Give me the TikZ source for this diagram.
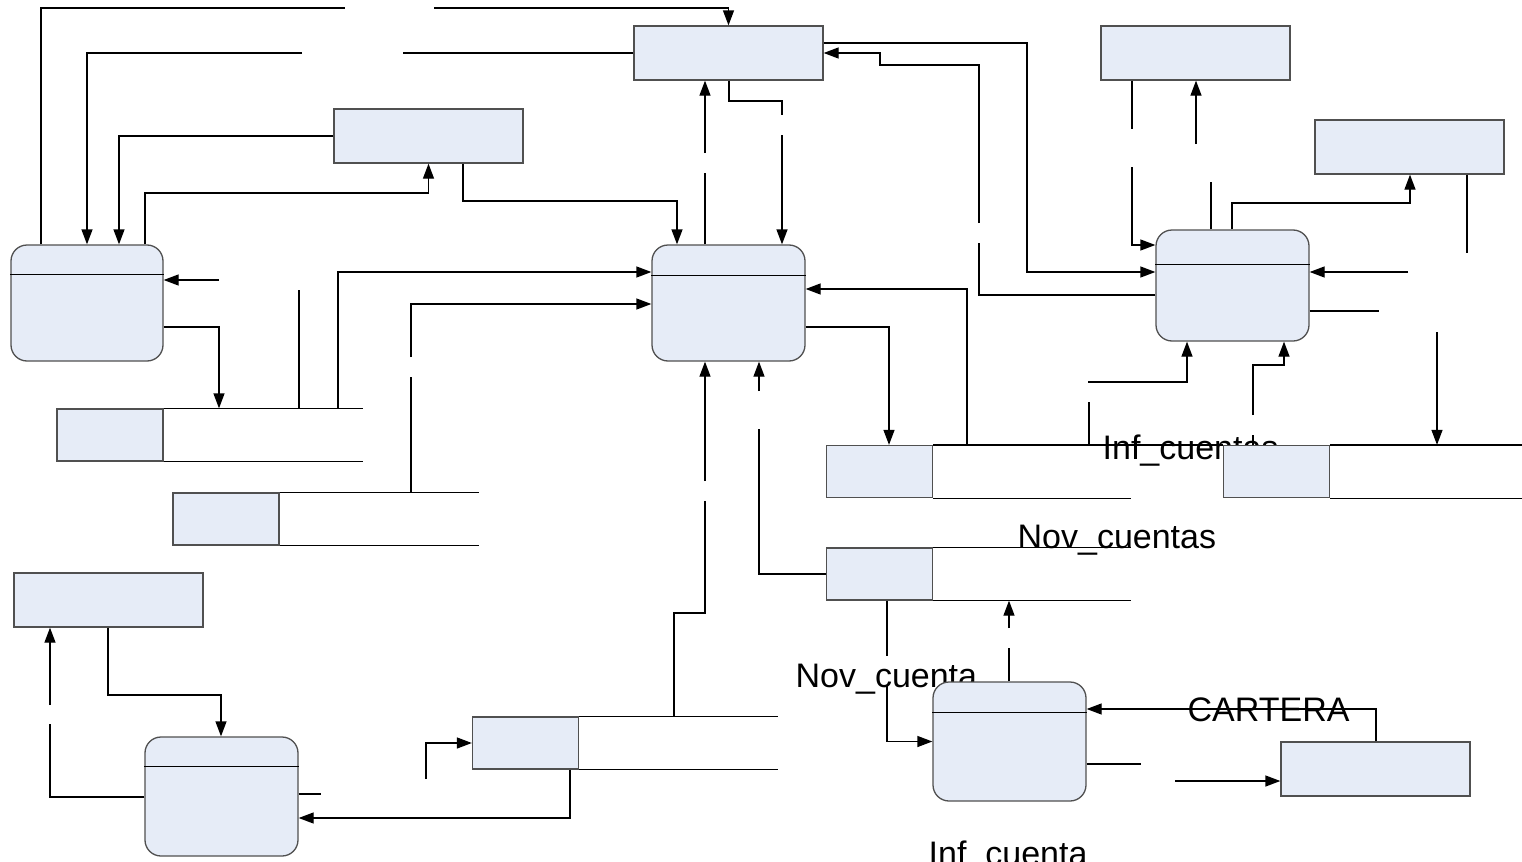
\documentclass[tikz,border=0pt]{standalone}
\usepackage{fontspec}
\setmainfont{Liberation Sans}
\usetikzlibrary{arrows.meta}
\definecolor{boxfill}{RGB}{230,236,247}
\definecolor{boxline}{RGB}{80,80,80}

\begin{document}
\begin{tikzpicture}[x=0.5pt,y=-0.5pt,line width=0.65pt,
    ent/.style={draw=boxline,fill=boxfill,minimum width=94.5pt,minimum height=27pt,inner sep=0pt},
    proc/.style={draw=boxline,fill=boxfill,rounded corners=8pt,minimum width=76.5pt,minimum height=58pt,inner sep=0pt},
    store/.style={draw=boxline,fill=boxfill,minimum width=53pt,minimum height=26pt,inner sep=0pt},
    flow/.style={-{Triangle[length=7.5pt,width=5.5pt]}},
    lbl/.style={anchor=base west,inner sep=0pt,font=\fontsize{17}{20}\selectfont}]
      \useasboundingbox (0,0) rectangle (1522,862);
      \clip (0,0) rectangle (1522,862);

      \node[lbl] (infcuentas) at (1102,459) {Inf\_cuentas};
      \node[lbl] (novcuentas) at (1017,548) {Nov\_cuentas};
      \node[lbl] (novcuenta) at (795,687) {Nov\_cuenta};
      \node[lbl] (cartera) at (1187,721) {CARTERA};
      \node[lbl] (infcuenta) at (928,865) {Inf\_cuenta};

      \node[ent] (e1) at (728.5,53) {};
      \node[ent] (e2) at (428.5,136) {};
      \node[ent] (e3) at (1195.5,53) {};
      \node[ent] (e4) at (1409.5,147) {};
      \node[ent] (e5) at (108.5,600) {};
      \node[ent] (e6) at (1375.5,769) {};

      \node[proc,minimum width=76pt] (p1) at (87,303) {};
      \node[proc] (p2) at (728.5,303) {};
      \node[proc,minimum height=55.5pt] (p3) at (1232.5,285.5) {};
      \node[proc,minimum height=59.5pt] (p4) at (221.5,796.5) {};
      \node[proc,minimum height=59.5pt] (p5) at (1009.5,741.5) {};
      \draw ([yshift=-15pt]p1.north west) -- ([yshift=-15pt]p1.north east);
      \draw ([yshift=-15.5pt]p2.north west) -- ([yshift=-15.5pt]p2.north east);
      \draw ([yshift=-17.5pt]p3.north west) -- ([yshift=-17.5pt]p3.north east);
      \draw ([yshift=-15pt]p4.north west) -- ([yshift=-15pt]p4.north east);
      \draw ([yshift=-15.5pt]p5.north west) -- ([yshift=-15.5pt]p5.north east);

      \node[store] (d1) at (110,435) {};
      \node[store] (d2) at (226,519) {};
      \node[store] (d3) at (879.5,471.5) {};
      \node[store] (d4) at (1276.5,471.5) {};
      \node[store] (d5) at (879.5,574) {};
      \node[store] (d6) at (525.5,743) {};
      \draw (d1.north east) -- ++(199,0);
      \draw (d1.south east) -- ++(199,0);
      \draw (d2.north east) -- ++(199,0);
      \draw (d2.south east) -- ++(199,0);
      \draw (d3.north east) -- ++(290,0);
      \draw (d3.south east) -- ++(198,0);
      \draw (d4.north east) -- ++(192,0);
      \draw (d4.south east) -- ++(192,0);
      \draw (d5.north east) -- ++(198,0);
      \draw (d5.south east) -- ++(198,0);
      \draw (d6.north east) -- ++(199,0);
      \draw (d6.south east) -- ++(199,0);

      \draw (41,0 |- p1.north) |- (345,8);
      \draw[flow] (434,8) -| (e1.north);
      \draw (e1.west) -- (403,53);
      \draw[flow] (302,53) -| (p1.north);
      \draw[flow] (e2.west) -| (119,0 |- p1.north);
      \draw[flow] (145,0 |- p1.north) -- (145,193) -| (e2.south);
      \draw[flow] (463,0 |- e2.south) -- (463,201) -| (677,0 |- p2.north);
      \draw[flow] (219,280) -- (p1.east |- 0,280);
      \draw[flow] (p1.east |- 0,327) -| (219,0 |- d1.north);

      \draw (299,290) -- (299,0 |- d1.north);
      \draw[flow] (338,0 |- d1.north) |- (p2.west |- 0,272);
      \draw (411,0 |- d2.north) -- (411,377);
      \draw[flow] (411,357) |- (p2.west |- 0,304);

      \draw (705,0 |- p2.north) -- (705,173);
      \draw[flow] (705,153) -- (705,0 |- e1.south);
      \draw (729,0 |- e1.south) |- (782,101) -- (782,115);
      \draw[flow] (782,135) -- (782,0 |- p2.north);

      \draw[flow] (e1.east |- 0,43) -| (1027,272) -- (p3.west |- 0,272);
      \draw (p3.west |- 0,295) -| (979,243);
      \draw[flow] (979,223) |- (880,65) |- (e1.east |- 0,53);

      \draw[flow] (967,0 |- d3.north) |- (p2.east |- 0,289);
      \draw[flow] (p2.east |- 0,327) -| (889,0 |- d3.north);
      \draw (d5.west) -| (759,429);
      \draw[flow] (759,391) -- (759,0 |- p2.south);
      \draw (674,0 |- d6.north) |- (705,613) -- (705,501);
      \draw[flow] (705,481) -- (705,0 |- p2.south);

      \draw (1132,0 |- e3.south) -- (1132,129);
      \draw[flow] (1132,167) |- (p3.west |- 0,245);
      \draw (1211,0 |- p3.north) -- (1211,182);
      \draw[flow] (1196,144) -- (1196,0 |- e3.south);
      \draw[flow] (1232,0 |- p3.north) |- (1410,203) -- (1410,0 |- e4.south);
      \draw (1467,0 |- e4.south) -- (1467,253);
      \draw[flow] (1437,332) -- (1437,0 |- d4.north);
      \draw[flow] (1408,272) -- (p3.east |- 0,272);
      \draw (p3.east |- 0,311) -- (1379,311);

      \draw (1089,0 |- d3.north) -- (1089,402);
      \draw[flow] (1088,382) -| (1187,0 |- p3.south);
      \draw (1253,0 |- d4.north) -- (1253,435);
      \draw[flow] (1253,415) |- (1284,365) -- (1284,0 |- p3.south);

      \draw[flow] (108,0 |- e5.south) |- (221,695) -- (221,0 |- p4.north);
      \draw (p4.west |- 0,797) -| (50,724);
      \draw[flow] (50,705) -- (50,0 |- e5.south);
      \draw (p4.east |- 0,794) -- (321,794);
      \draw[flow] (570,0 |- d6.south) |- (p4.east |- 0,818);
      \draw[flow] (426,779) |- (d6.west);

      \draw (887,0 |- d5.south) -- (887,656);
      \draw[flow] (887,686) |- (p5.west);
      \draw (1009,0 |- p5.north) -- (1009,648);
      \draw[flow] (1009,628) -- (1009,0 |- d5.south);
      \draw[flow] (1376,0 |- e6.north) |- (p5.east |- 0,709);
      \draw (p5.east |- 0,764) -- (1141,764);
      \draw[flow] (1175,781) -- (e6.west |- 0,781);
    \end{tikzpicture}
\end{document}
